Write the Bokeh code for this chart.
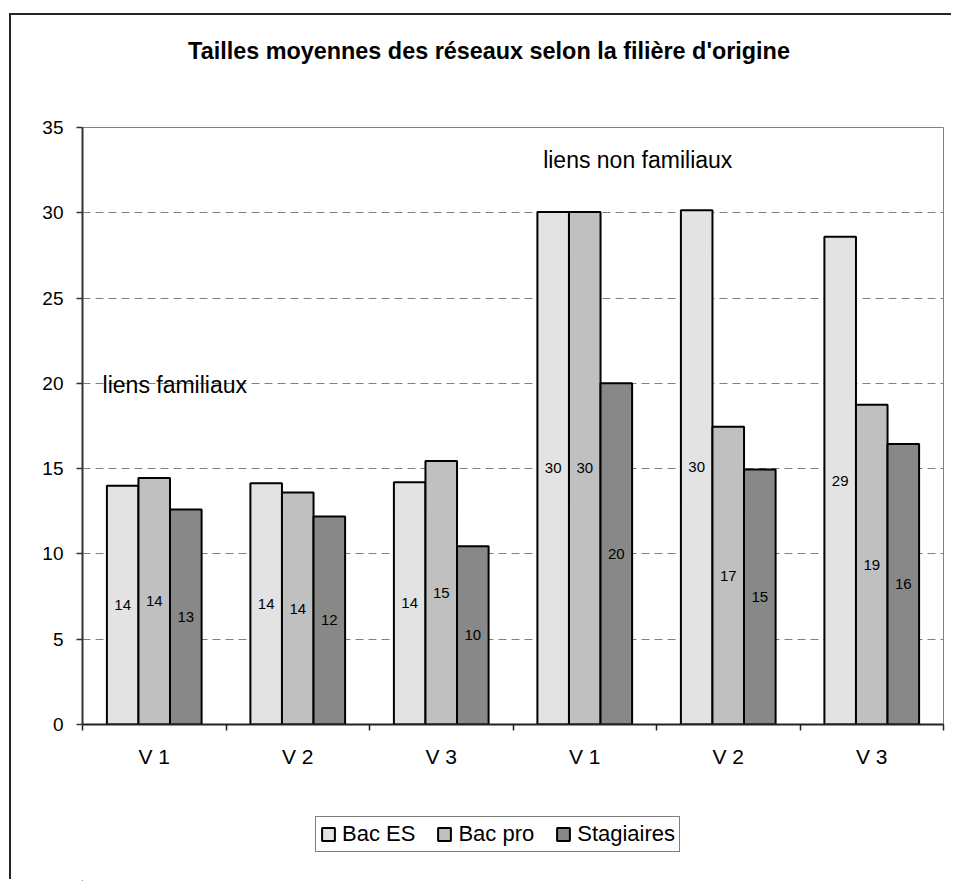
from bokeh.plotting import figure
from bokeh.layouts import column
from bokeh.models import (ColumnDataSource, Range1d, LinearAxis, Legend, LegendItem,
                          FixedTicker, Label, CustomJSTickFormatter)
from bokeh.transform import dodge
from bokeh.core.properties import value
from bokeh.embed import file_html
from bokeh.resources import INLINE

# ---------------- data ----------------
title_text = "Tailles moyennes des réseaux selon la filière d'origine"
group_labels = ["liens familiaux", "liens non familiaux"]
groups = ["liens familiaux"] * 3 + ["liens non familiaux"] * 3
vagues = ["V 1", "V 2", "V 3", "V 1", "V 2", "V 3"]
series_names = ["Bac ES", "Bac pro", "Stagiaires"]
bac_es = [14.0, 14.15, 14.2, 30.05, 30.15, 28.6]
bac_pro = [14.45, 13.6, 15.45, 30.05, 17.45, 18.75]
stagiaires = [12.6, 12.2, 10.45, 20.0, 14.95, 16.45]
y_ticks = [0, 5, 10, 15, 20, 25, 30, 35]

FONT = "Liberation Sans"
colors = ["#e3e3e3", "#c0c0c0", "#888888"]
offsets = [-0.22, 0.0, 0.22]
W = 942
BORDER_L, BORDER_R = 71, 10
FRAME_W = W - BORDER_L - BORDER_R   # frames of all stacked figures are aligned

n = len(vagues)
centers = [i + 0.5 for i in range(n)]      # category slot centres
bounds = list(range(n + 1))                # category slot boundaries

data = dict(xc=centers, group=groups, vague=vagues)
for name, vals in zip(["es", "pro", "stag"], [bac_es, bac_pro, stagiaires]):
    data[name] = vals
    data[name + "_mid"] = [v / 2 for v in vals]
    data[name + "_lbl"] = [f"{v:.0f}" for v in vals]
source = ColumnDataSource(data)


def blank_figure(h):
    f = figure(width=W, height=h, x_range=Range1d(0, FRAME_W), y_range=Range1d(0, h),
               output_backend="svg", toolbar_location=None,
               x_axis_location=None, y_axis_location=None,
               min_border=0, min_border_left=0, min_border_right=0,
               min_border_top=0, min_border_bottom=0,
               outline_line_color=None, background_fill_color="white",
               border_fill_color="white")
    f.grid.visible = False
    return f


# ---------------- title strip ----------------
pt = blank_figure(97)
pt.add_layout(Label(x=406.5, y=62, text=title_text, text_font=FONT,
                    text_font_size="23.4px", text_font_style="bold", text_color="black",
                    text_align="center", text_baseline="alphabetic"))

# ---------------- main chart ----------------
p = figure(width=W, height=663,
           x_range=Range1d(0, n),
           y_range=Range1d(y_ticks[0], y_ticks[-1]),
           output_backend="svg", toolbar_location=None,
           x_axis_location=None,
           min_border_left=BORDER_L, min_border_right=BORDER_R,
           min_border_top=15, min_border_bottom=51,
           background_fill_color="white", border_fill_color="white",
           outline_line_color="#808080", outline_line_width=1)

bounds_axis = LinearAxis(ticker=FixedTicker(ticks=bounds),
                         formatter=CustomJSTickFormatter(code="return ''"),
                         major_tick_out=6, major_tick_in=0,
                         minor_tick_line_color=None,
                         axis_line_color="#222222", axis_line_width=2,
                         major_tick_line_color="#222222", major_tick_line_width=1.5,
                         major_label_text_font_size="1px", major_label_standoff=0)
cat_axis = LinearAxis(ticker=FixedTicker(ticks=centers),
                      formatter=CustomJSTickFormatter(args=dict(labels=vagues),
                                                      code="return labels[Math.floor(tick)]"),
                      axis_line_color=None, major_tick_line_color=None,
                      major_tick_out=0, major_tick_in=0,
                      minor_tick_line_color=None,
                      major_label_standoff=14,
                      major_label_text_font=FONT,
                      major_label_text_font_size="21px",
                      major_label_text_color="black")
p.add_layout(bounds_axis, "below")
p.add_layout(cat_axis, "below")

p.yaxis.ticker = FixedTicker(ticks=y_ticks)
p.yaxis.major_tick_out = 6
p.yaxis.major_tick_in = 0
p.yaxis.minor_tick_line_color = None
p.yaxis.axis_line_color = "#333333"
p.yaxis.axis_line_width = 2
p.yaxis.major_tick_line_color = "#333333"
p.yaxis.major_tick_line_width = 1.5
p.yaxis.major_label_standoff = 13
p.yaxis.major_label_text_font = FONT
p.yaxis.major_label_text_font_size = "19px"
p.yaxis.major_label_text_color = "black"

p.ygrid.ticker = FixedTicker(ticks=y_ticks)
p.ygrid.grid_line_color = "#808080"
p.ygrid.grid_line_dash = "8 5"
p.ygrid.grid_line_width = 1
p.xgrid.visible = False

for name, col, off in zip(["es", "pro", "stag"], colors, offsets):
    p.vbar(x=dodge("xc", off), top=name, width=0.22, bottom=0,
           source=source, fill_color=col, line_color="black", line_width=2)
for name, off in zip(["es", "pro", "stag"], offsets):
    p.text(x=dodge("xc", off), y=name + "_mid", text=name + "_lbl",
           source=source, text_align="center", text_baseline="middle",
           text_font=value(FONT), text_font_size="15px", text_color="black")

p.add_layout(Label(x=0.14, y=19.9, text=group_labels[0], text_font=FONT,
                   text_font_size="23px", text_color="black",
                   text_align="left", text_baseline="alphabetic"))
p.add_layout(Label(x=3.21, y=33.1, text=group_labels[1], text_font=FONT,
                   text_font_size="23px", text_color="black",
                   text_align="left", text_baseline="alphabetic"))

# ---------------- legend strip ----------------
pl = blank_figure(106)
# legend swatches: one row each, placed fully outside the visible range
legend_renderers = [pl.vbar(x=[-100], top=[-50], bottom=[-100], width=1, fill_color=c,
                            line_color="black", line_width=2) for c in colors]
lg = Legend(items=[LegendItem(label=s, renderers=[r]) for s, r in zip(series_names, legend_renderers)],
            orientation="horizontal", location=(233, 29),
            glyph_width=16, glyph_height=16, label_standoff=6, spacing=21,
            padding=4, margin=0,
            border_line_color="black", border_line_width=1,
            background_fill_color="white", background_fill_alpha=1,
            label_text_font=FONT, label_text_font_size="22px", label_text_color="black")
pl.add_layout(lg, "center")

layout = column(pt, p, pl, spacing=0, margin=(15, 0, 0, 11),
                styles={"box-shadow": "-2px -2px 0px 0px #262626"})

open("out.html", "w").write(file_html(layout, INLINE))
